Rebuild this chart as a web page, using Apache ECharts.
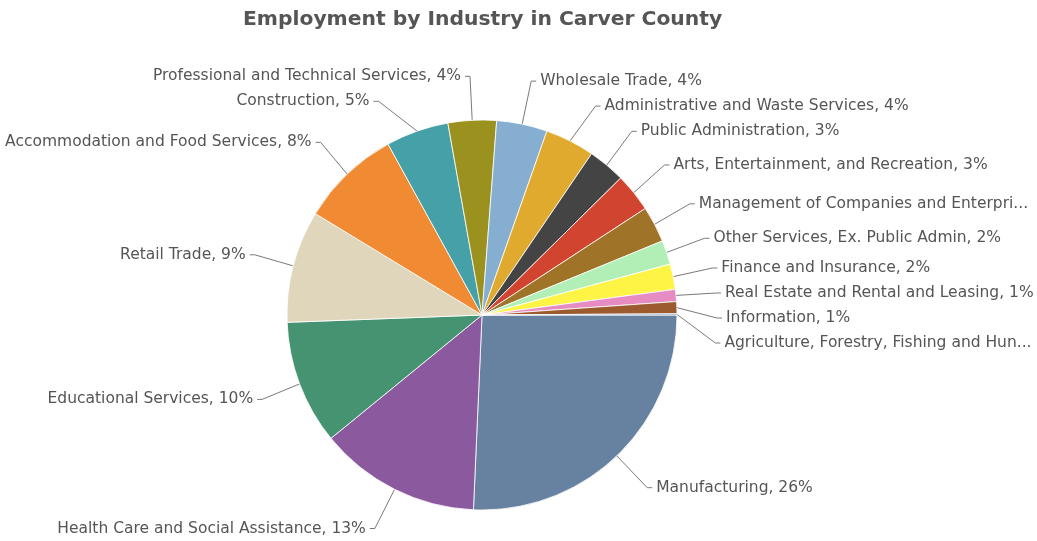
<!DOCTYPE html>
<html>
<head>
<meta charset="utf-8">
<title>Employment by Industry in Carver County</title>
<script src="https://cdn.jsdelivr.net/npm/echarts@6/dist/echarts.min.js"></script>
<style>
  html, body { margin: 0; padding: 0; background: #ffffff; }
  #chart { width: 1037px; height: 541px; }
</style>
</head>
<body>
<div id="chart"></div>
<script>
// Share of employment by industry (percent), in drawing order clockwise from 3 o'clock
const industries = [
  'Manufacturing',
  'Health Care and Social Assistance',
  'Educational Services',
  'Retail Trade',
  'Accommodation and Food Services',
  'Construction',
  'Professional and Technical Services',
  'Wholesale Trade',
  'Administrative and Waste Services',
  'Public Administration',
  'Arts, Entertainment, and Recreation',
  'Management of Companies and Enterprises',
  'Other Services, Ex. Public Admin',
  'Finance and Insurance',
  'Real Estate and Rental and Leasing',
  'Information',
  'Agriculture, Forestry, Fishing and Hunting'
];
const shares = [25.7, 13.4, 10.3, 9.3, 8.3, 5.2, 4.0, 4.2, 4.1, 3.1, 3.2, 3.0, 2.0, 2.1, 1.0, 1.0, 0.1];
const sliceColors = [
  '#6782a0', '#8b5a9e', '#469372', '#e0d6bb', '#f08a33', '#46a0a8',
  '#9b911e', '#85aed0', '#e0aa2e', '#444444', '#d04430', '#a07428',
  '#b2efb7', '#fdf446', '#e68cc2', '#9c5a2f', '#6a8bbf'
];

const total = shares.reduce((a, b) => a + b, 0);
const pieData = industries.map((name, i) => ({
  name: name,
  value: shares[i],
  itemStyle: { color: sliceColors[i] }
}));

const chart = echarts.init(document.getElementById('chart'), null, { renderer: 'canvas' });
chart.setOption({
  animation: false,
  backgroundColor: '#ffffff',
  title: {
    text: 'Employment by Industry in Carver County',
    left: 238,
    top: 5,
    textStyle: {
      fontFamily: 'DejaVu Sans',
      fontSize: 20.3,
      fontWeight: 'bold',
      color: '#555555'
    }
  },
  series: [{
    type: 'pie',
    center: [482, 315],
    radius: 195,
    startAngle: 0,
    clockwise: true,
    data: pieData,
    itemStyle: { borderColor: '#ffffff', borderWidth: 0.8 },
    label: {
      show: true,
      position: 'outer',
      fontFamily: 'DejaVu Sans',
      fontSize: 15.5,
      color: '#555555',
      lineHeight: 23,
      overflow: 'truncate',
      ellipsis: '...',
      bleedMargin: 0,
      distanceToLabelLine: 4,
      formatter: p => p.name + ', ' + Math.round(p.value / total * 100) + '%'
    },
    labelLine: {
      show: true,
      length: 44,
      length2: 5,
      lineStyle: { color: '#7a7a7a', width: 1 }
    },
    emphasis: { disabled: true }
  }]
});
</script>
</body>
</html>
